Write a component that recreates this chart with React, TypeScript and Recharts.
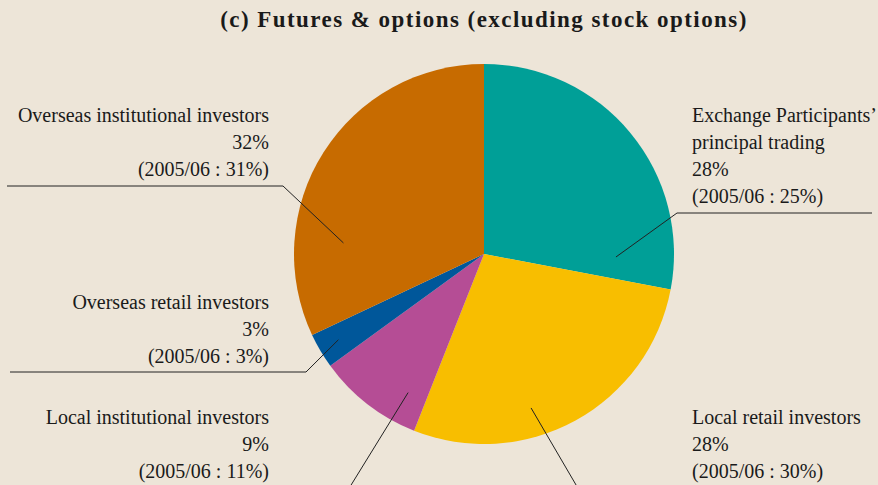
import { PieChart, Pie, Cell } from 'recharts';

const categories = [
  'Exchange Participants’ principal trading',
  'Local retail investors',
  'Local institutional investors',
  'Overseas retail investors',
  'Overseas institutional investors',
];
const shares = [28, 28, 9, 3, 32];
const prevShares = [25, 30, 11, 3, 31];
const prevYear = '2005/06';
const colors = ['#009f97', '#f8be00', '#b54d95', '#00579a', '#c76b00'];

// how the category names wrap in the labels
const nameLines = [
  ['Exchange Participants’', 'principal trading'],
  ['Local retail investors'],
  ['Local institutional investors'],
  ['Overseas retail investors'],
  ['Overseas institutional investors'],
];

// annotation layout: leader anchor (polar from centre), elbow, end, text block
const callouts = [
  { r: 132, a: -1.3, elbow: [677, 213], end: [872, 213], tx: 692, ty: 115, anchor: 'start' },
  { r: 161, a: -73, elbow: null, end: [579, 490], tx: 692, ty: 417, anchor: 'start' },
  { r: 158, a: 241.3, elbow: null, end: [348, 490], tx: 269, ty: 417, anchor: 'end' },
  { r: 169, a: 210.5, elbow: [306, 372], end: [10, 372], tx: 269, ty: 302, anchor: 'end' },
  { r: 141, a: 175.5, elbow: [283, 186], end: [7, 186], tx: 269, ty: 115, anchor: 'end' },
];

const FONT = '"Liberation Serif", "DejaVu Serif", serif';
const LINE = 27;

const data = categories.map((name, i) => ({ name, value: shares[i], prev: prevShares[i] }));

const renderLabel = (props: any) => {
  const { cx, cy, index } = props;
  const c = callouts[index];
  const rad = (c.a * Math.PI) / 180;
  const ax = cx + c.r * Math.cos(rad);
  const ay = cy - c.r * Math.sin(rad);
  const pts = [[ax, ay], ...(c.elbow ? [c.elbow] : []), c.end];
  const lines = [...nameLines[index], `${shares[index]}%`, `(${prevYear} : ${prevShares[index]}%)`];
  return (
    <g key={`lbl-${index}`}>
      <polyline
        points={pts.map((p) => p.join(',')).join(' ')}
        fill="none"
        stroke="#222"
        strokeWidth={1}
      />
      <text
        x={c.tx}
        y={c.ty}
        textAnchor={c.anchor}
        dominantBaseline="central"
        fontFamily={FONT}
        fontSize={20}
        fill="#1a1a1a"
      >
        {lines.map((t, j) => (
          <tspan key={j} x={c.tx} dy={j === 0 ? 0 : LINE}>
            {t}
          </tspan>
        ))}
      </text>
    </g>
  );
};

export default function App() {
  return (
    <div
      style={{
        position: 'fixed',
        top: 0,
        left: 0,
        width: 878,
        height: 485,
        background: '#ede5d8',
        overflow: 'hidden',
      }}
    >
      <div
        style={{
          position: 'absolute',
          top: 7,
          left: 0,
          width: 968,
          textAlign: 'center',
          fontFamily: FONT,
          fontWeight: 'bold',
          fontSize: 23,
          letterSpacing: 1.45,
          color: '#1a1a1a',
        }}
      >
        (c) Futures &amp; options (excluding stock options)
      </div>
      <PieChart
        width={878}
        height={485}
        margin={{ top: 0, right: 0, bottom: 0, left: 0 }}
        style={{ position: 'absolute', top: 0, left: 0 }}
      >
        <Pie
          data={data}
          dataKey="value"
          nameKey="name"
          cx={484}
          cy={254}
          outerRadius={190}
          startAngle={90}
          endAngle={-270}
          stroke="none"
          label={renderLabel}
          labelLine={false}
          isAnimationActive={false}
        >
          {data.map((d, i) => (
            <Cell key={d.name} fill={colors[i]} />
          ))}
        </Pie>
      </PieChart>
    </div>
  );
}
